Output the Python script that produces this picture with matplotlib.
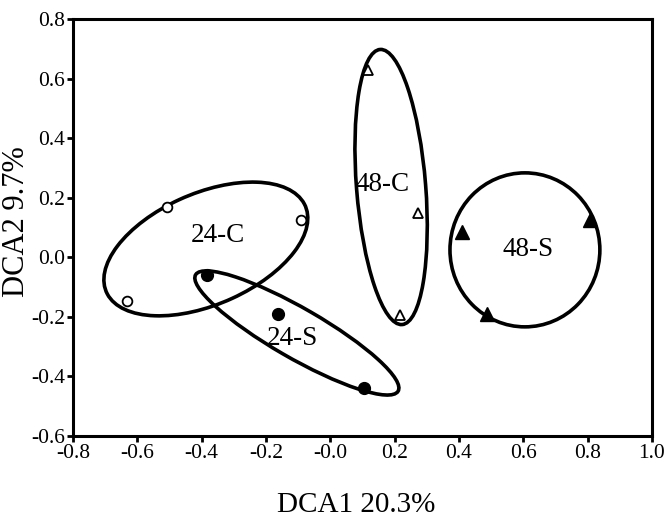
import numpy as np
import matplotlib.pyplot as plt
from matplotlib.patches import Ellipse

plt.rcParams['font.family'] = 'Liberation Serif'
plt.rcParams['axes.unicode_minus'] = False

# sample scores (DCA1, DCA2)
c24_x = [-0.508, -0.091, -0.632]
c24_y = [0.169, 0.125, -0.147]
s24_x = [-0.383, -0.163, 0.105]
s24_y = [-0.059, -0.190, -0.439]
c48_x = [0.117, 0.272, 0.216]
c48_y = [0.629, 0.149, -0.194]
s48_x = [0.409, 0.807, 0.487]
s48_y = [0.085, 0.125, -0.190]

# group ellipses: center x, center y, width, height, angle
groups = ['24-C', '24-S', '48-C', '48-S']
ell_cx = [-0.387, -0.104, 0.189, 0.605]
ell_cy = [0.028, -0.254, 0.236, 0.025]
ell_w = [0.683, 0.741, 0.926, 0.466]
ell_h = [0.370, 0.165, 0.215, 0.517]
ell_ang = [26.3, -32.0, -85.8, 0.0]
lab_x = [-0.349, -0.119, 0.161, 0.614]
lab_y = [0.072, -0.273, 0.245, 0.025]

xt = np.arange(-0.8, 1.01, 0.2)
yt = np.arange(-0.6, 0.81, 0.2)

fig = plt.figure(figsize=(6.72, 5.21), dpi=100)
ax = fig.add_axes([0.1086, 0.1631, 0.8616, 0.8004])

for i in range(len(groups)):
    e = Ellipse((ell_cx[i], ell_cy[i]), ell_w[i], ell_h[i], angle=ell_ang[i],
                fill=False, ec='black', lw=2.6, zorder=2)
    ax.add_patch(e)
    ax.text(lab_x[i], lab_y[i], groups[i], ha='center', va='center', fontsize=19.5)

ax.plot(c24_x, c24_y, 'o', mfc='white', mec='black', mew=1.3, ms=7, zorder=3)
ax.plot(s24_x, s24_y, 'o', mfc='black', mec='black', ms=8.5, zorder=3)
ax.plot(c48_x, c48_y, '^', mfc='white', mec='black', mew=1.3, ms=7, zorder=3)
ax.plot(s48_x, s48_y, '^', mfc='black', mec='black', ms=9.5, zorder=3)

ax.set_xlim(-0.8, 1.0)
ax.set_ylim(-0.6, 0.8)
ax.set_xticks(xt)
ax.set_yticks(yt)
ax.set_xticklabels(['%.1f' % v for v in xt])
ax.set_yticklabels(['%.1f' % v for v in yt])
ax.tick_params(direction='out', length=4, width=2, labelsize=15.5, pad=1.5)
for s in ax.spines.values():
    s.set_linewidth(2.2)

ax.set_xlabel('DCA1 20.3%', fontsize=21)
ax.set_ylabel('DCA2 9.7%', fontsize=22)
ax.xaxis.set_label_coords(0.49, -0.166)
ax.yaxis.set_label_coords(-0.098, 0.513)
ax.xaxis.label.set_va('center')
ax.yaxis.label.set_va('center')

fig.savefig('out.png', dpi=100)
